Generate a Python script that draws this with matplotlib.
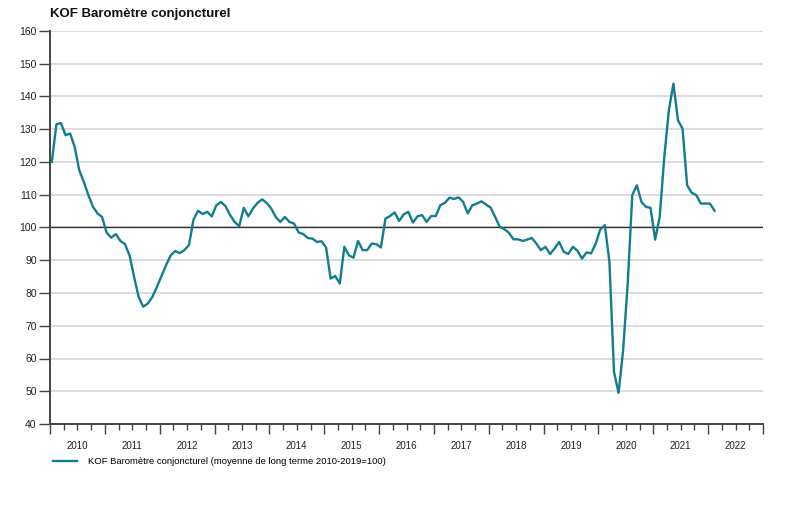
import numpy as np
import matplotlib
matplotlib.use("Agg")
import matplotlib.pyplot as plt
from matplotlib.ticker import MultipleLocator

plt.rcParams['font.family'] = ['Liberation Sans', 'DejaVu Sans']

# monthly values, one list per year
v2010 = [120.0, 131.5, 131.9, 128.2, 128.7, 124.6, 117.5, 113.9, 109.9, 106.3, 104.3, 103.2]
v2011 = [98.4, 96.9, 98.0, 95.9, 94.9, 91.5, 84.9, 78.8, 75.8, 76.8, 78.8, 81.9]
v2012 = [85.2, 88.5, 91.5, 92.8, 92.2, 93.1, 94.6, 102.4, 105.1, 104.1, 104.8, 103.4]
v2013 = [106.8, 107.8, 106.5, 103.8, 101.7, 100.4, 106.0, 103.4, 105.8, 107.5, 108.6, 107.5]
v2014 = [105.8, 103.2, 101.7, 103.2, 101.7, 101.2, 98.5, 98.0, 96.8, 96.6, 95.6, 95.8]
v2015 = [93.9, 84.4, 85.2, 82.9, 94.1, 91.5, 90.8, 95.9, 93.1, 93.1, 95.1, 94.9]
v2016 = [93.9, 102.7, 103.5, 104.6, 102.0, 104.0, 104.8, 101.5, 103.4, 103.8, 101.7, 103.5]
v2017 = [103.5, 106.8, 107.5, 109.1, 108.7, 109.2, 107.8, 104.3, 106.8, 107.3, 108.0, 107.0]
v2018 = [106.1, 103.2, 100.2, 99.5, 98.4, 96.4, 96.4, 95.9, 96.3, 96.8, 95.1, 93.1]
v2019 = [94.1, 91.9, 93.6, 95.6, 92.6, 91.9, 94.1, 92.9, 90.5, 92.4, 92.1, 95.1]
v2020 = [99.4, 100.7, 89.5, 55.9, 49.5, 62.6, 82.9, 109.9, 112.9, 107.8, 106.3, 106.0]
v2021 = [96.3, 103.2, 121.5, 135.8, 143.9, 132.7, 130.2, 112.9, 110.6, 109.9, 107.3, 107.3]
v2022 = [107.3, 105.1]

years = list(range(2010, 2023))
kof = np.array(v2010 + v2011 + v2012 + v2013 + v2014 + v2015 + v2016
               + v2017 + v2018 + v2019 + v2020 + v2021 + v2022)
months = np.arange(len(kof)) + 0.4

line_col = '#127d8f'
axis_col = '#444444'

fig = plt.figure(figsize=(7.97, 5.05), dpi=100)
ax = fig.add_axes([50 / 797, 1 - 424 / 505, 713 / 797, 393 / 505])

ax.set_xlim(0, 12 * len(years))
ax.set_ylim(40, 160)
ax.set_yticks(range(40, 161, 10))
ax.yaxis.grid(True, color='#d6d6d6', lw=1.2)
ax.set_axisbelow(True)
ax.axhline(100, color='#333333', lw=1.0, zorder=2)

ax.plot(months, kof, color=line_col, lw=1.7, zorder=3,
        label='KOF Baromètre conjoncturel (moyenne de long terme 2010-2019=100)')

ax.xaxis.set_major_locator(MultipleLocator(12))
ax.xaxis.set_minor_locator(MultipleLocator(3))
ax.set_xticklabels([])
ax.tick_params(axis='x', which='major', length=7.2, width=1, color=axis_col)
ax.tick_params(axis='x', which='minor', length=4.3, width=1, color=axis_col)
ax.tick_params(axis='y', length=7.6, width=1, color=axis_col, labelsize=7.5,
               pad=2, labelcolor='#222222')

for i, yr in enumerate(years):
    ax.text(12 * i + 6, -0.055, str(yr), transform=ax.get_xaxis_transform(),
            ha='center', va='center', fontsize=7, color='#222222')

for s in ['top', 'right']:
    ax.spines[s].set_visible(False)
for s in ['left', 'bottom']:
    ax.spines[s].set_color(axis_col)
    ax.spines[s].set_linewidth(1.4)

fig.text(50 / 797, 1 - 14 / 505, 'KOF Baromètre conjoncturel', fontsize=9.5,
         fontweight='bold', ha='left', va='center', color='#111111')

fig.legend(loc='center left', bbox_to_anchor=(53 / 797, 1 - 462 / 505),
           frameon=False, fontsize=6.8, handlelength=2.5, handletextpad=1.2,
           borderpad=0, borderaxespad=0)

fig.savefig('out.png', dpi=100)
